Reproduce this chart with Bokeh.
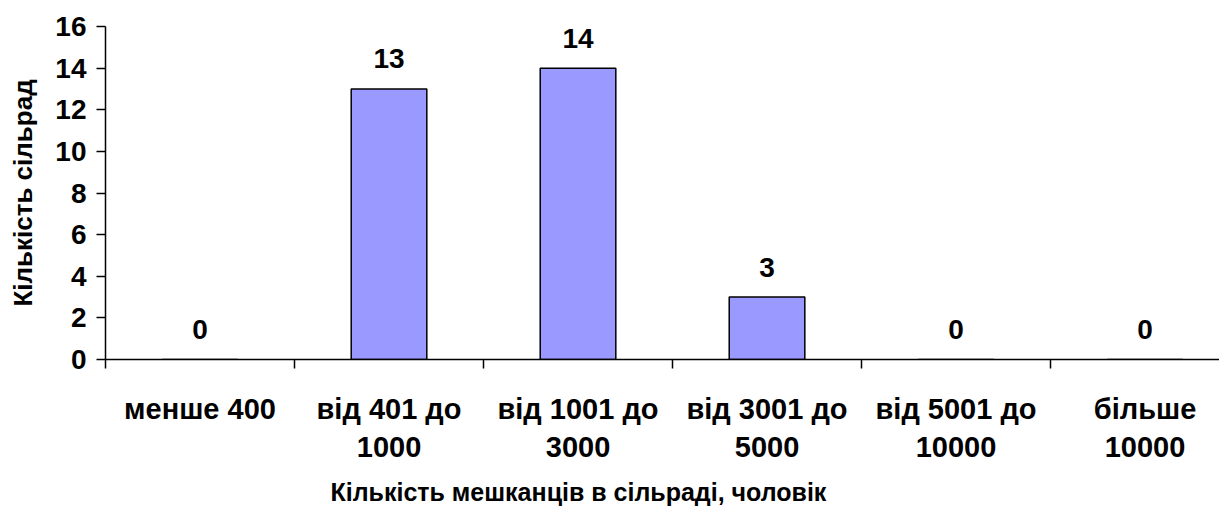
from bokeh.plotting import figure
from bokeh.models import FixedTicker, Range1d, ColumnDataSource, Title
from bokeh.core.properties import value
from bokeh.embed import file_html
from bokeh.resources import INLINE

categories = ["менше 400", "від 401 до\n1000", "від 1001 до\n3000",
              "від 3001 до\n5000", "від 5001 до\n10000", "більше\n10000"]
counts = [0, 13, 14, 3, 0, 0]
y_ticks = [0, 2, 4, 6, 8, 10, 12, 14, 16]
x_title = "Кількість мешканців в сільраді, чоловік"
y_title = "Кількість сільрад"

FONT = "Liberation Sans"
n = len(categories)
centers = [i + 0.5 for i in range(n)]
bounds = [float(i) for i in range(n)]

src = ColumnDataSource(dict(x=centers, top=counts, lab=[str(c) for c in counts]))

p = figure(frame_width=1114, frame_height=333, output_backend="svg",
           toolbar_location=None, x_range=Range1d(0, 5.894), y_range=Range1d(0, 16),
           min_border_left=105, min_border_top=26, min_border_right=0, min_border_bottom=4)
p.outline_line_color = None
p.xgrid.visible = False
p.ygrid.visible = False

p.vbar(x="x", top="top", width=0.4, source=src, fill_color="#9999FF",
       line_color="black", line_width=1.5)
p.text(x="x", y="top", text="lab", source=src, text_align="center",
       text_baseline="middle", y_offset=-30, text_font=value(FONT),
       text_font_style="bold", text_font_size="28px", text_color="black")

xa = p.xaxis[0]
xa.ticker = FixedTicker(ticks=centers, minor_ticks=bounds)
xa.major_label_overrides = {c: lab for c, lab in zip(centers, categories)}
xa.major_tick_out = 0
xa.major_tick_in = 0
xa.minor_tick_out = 9
xa.minor_tick_in = 0
xa.minor_tick_line_color = "black"
xa.minor_tick_line_width = 1.5
xa.axis_line_color = "black"
xa.axis_line_width = 1.5
xa.major_label_standoff = 24
xa.major_label_text_font = FONT
xa.major_label_text_font_style = "bold"
xa.major_label_text_font_size = "29px"
xa.major_label_text_color = "black"

p.add_layout(Title(text=x_title, align="left", offset=225, standoff=20,
                   text_font=FONT, text_font_style="bold", text_font_size="25px",
                   text_color="black"), "below")

ya = p.yaxis[0]
ya.ticker = FixedTicker(ticks=y_ticks)
ya.minor_tick_line_color = None
ya.major_tick_out = 9
ya.major_tick_in = 0
ya.major_tick_line_color = "black"
ya.major_tick_line_width = 1.5
ya.axis_line_color = "black"
ya.axis_line_width = 1.5
ya.major_label_standoff = 10
ya.major_label_text_font = FONT
ya.major_label_text_font_style = "bold"
ya.major_label_text_font_size = "28px"
ya.major_label_text_color = "black"
ya.axis_label = y_title
ya.axis_label_text_font = FONT
ya.axis_label_text_font_style = "bold"
ya.axis_label_text_font_size = "26px"
ya.axis_label_text_color = "black"
ya.axis_label_standoff = 14

open("out.html", "w").write(file_html(p, INLINE))
